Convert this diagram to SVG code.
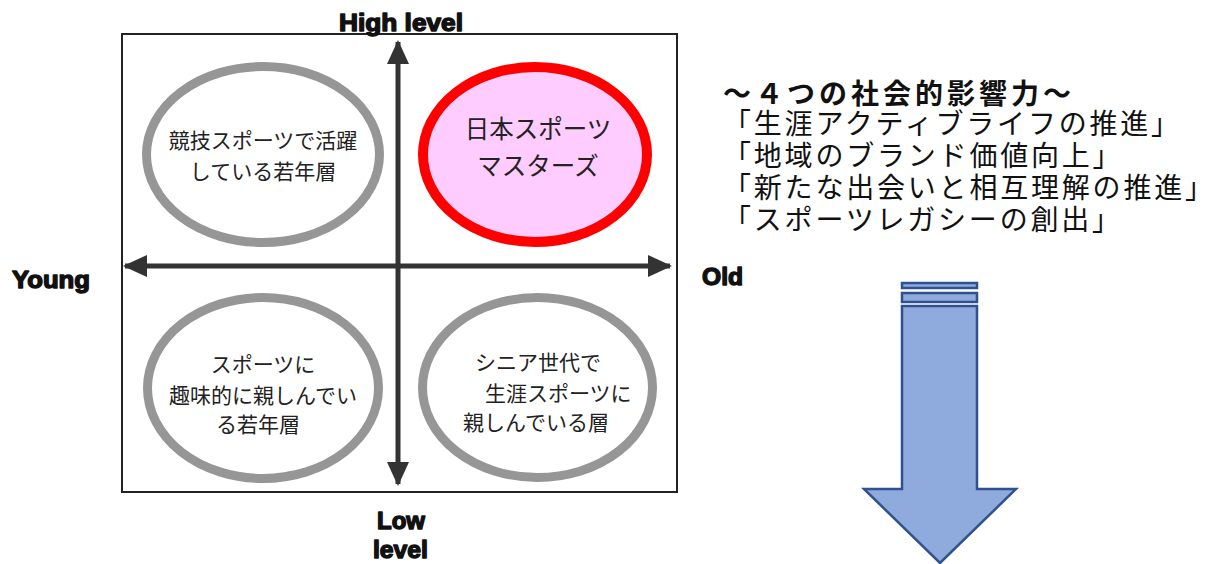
<svg xmlns="http://www.w3.org/2000/svg" width="1227" height="564" viewBox="0 0 1227 564">
<style>
.lbl{font-family:"Liberation Sans",Arial,sans-serif;font-weight:bold;font-size:24px;fill:#111;stroke:#111;stroke-width:1.4px;stroke-linejoin:round;}
.jp{font-family:"Noto Sans CJK JP","Noto Sans CJK SC",sans-serif;fill:#222;}
.gray{fill:#fff;stroke:#969696;stroke-width:9;}
.rt{font-family:"Noto Sans CJK JP","Noto Sans CJK SC",sans-serif;font-size:28px;letter-spacing:2.8px;fill:#111;}
.blue{fill:#8FAADC;stroke:#2F528F;stroke-width:2.5;}
</style>
<defs>
<marker id="ah" viewBox="0 0 24 22" refX="22" refY="11" markerWidth="24" markerHeight="22" markerUnits="userSpaceOnUse" orient="auto-start-reverse">
<path d="M0,0 L24,11 L0,22 Z" fill="#333"/>
</marker>
</defs>
<rect width="1227" height="564" fill="#fff"/>
<g id="frame">
<rect x="122" y="34" width="555" height="458" fill="#fff" stroke="#222" stroke-width="2"/>
</g>
<g id="node-tl">
<ellipse class="gray" cx="263" cy="154.5" rx="116.5" ry="88"/>
<text class="jp" font-size="21" text-anchor="middle"><tspan x="263" y="148">競技スポーツで活躍</tspan><tspan x="263" y="179">している若年層</tspan></text>
</g>
<g id="node-tr">
<ellipse cx="535" cy="154.5" rx="112" ry="87.5" fill="#FFCCFF" stroke="#FF0000" stroke-width="10"/>
<text class="jp" font-size="24.5" text-anchor="middle"><tspan x="538" y="138">日本スポーツ</tspan><tspan x="538" y="175">マスターズ</tspan></text>
</g>
<g id="node-bl">
<ellipse class="gray" cx="263" cy="388" rx="115.5" ry="90.5"/>
<text class="jp" font-size="21" text-anchor="middle"><tspan x="263" y="372">スポーツに</tspan><tspan x="263" y="403">趣味的に親しんでい</tspan><tspan x="258" y="432">る若年層</tspan></text>
</g>
<g id="node-br">
<ellipse class="gray" cx="537.5" cy="387.5" rx="115" ry="90"/>
<text class="jp" font-size="21"><tspan x="475" y="370">シニア世代で</tspan><tspan x="485" y="401">生涯スポーツに</tspan><tspan x="463" y="430">親しんでいる層</tspan></text>
</g>
<g id="connectors">
<line x1="398" y1="484" x2="398" y2="42" stroke="#333" stroke-width="5" marker-start="url(#ah)" marker-end="url(#ah)"/>
<line x1="125" y1="266" x2="670" y2="266" stroke="#333" stroke-width="5" marker-start="url(#ah)" marker-end="url(#ah)"/>
</g>
<g id="axis-labels">
<text class="lbl" x="339" y="31" textLength="124" lengthAdjust="spacingAndGlyphs">High level</text>
<text class="lbl" x="12" y="288" textLength="78" lengthAdjust="spacingAndGlyphs">Young</text>
<text class="lbl" x="702" y="285" textLength="41" lengthAdjust="spacingAndGlyphs">Old</text>
<text class="lbl" x="377" y="529" textLength="48" lengthAdjust="spacingAndGlyphs">Low</text>
<text class="lbl" x="373" y="558" textLength="55" lengthAdjust="spacingAndGlyphs">level</text>
</g>
<g id="impact-text">
<text class="rt"><tspan x="723" y="104" font-weight="bold" letter-spacing="4">～４つの社会的影響力～</tspan><tspan x="723" y="134">「生涯アクティブライフの推進」</tspan><tspan x="723" y="166">「地域のブランド価値向上」</tspan><tspan x="723" y="198">「新たな出会いと相互理解の推進」</tspan><tspan x="723" y="230">「スポーツレガシーの創出」</tspan></text>
</g>
<g id="down-arrow">
<rect class="blue" x="902" y="283" width="75" height="5"/>
<rect class="blue" x="902" y="293" width="75" height="9"/>
<path class="blue" d="M902,306 L977,306 L977,489 L1016,489 L940,563 L864,489 L902,489 Z"/>
</g>
</svg>
